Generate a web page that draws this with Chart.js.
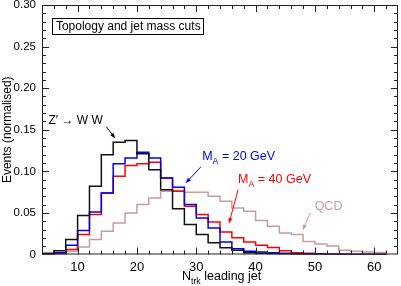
<!DOCTYPE html>
<html>
<head>
<meta charset="utf-8">
<script src="https://cdn.jsdelivr.net/npm/chart.js@4.4.0/dist/chart.umd.min.js"></script>
<style>
  html, body { margin: 0; padding: 0; background: #fff; }
  #wrap { width: 401px; height: 286px; }
</style>
</head>
<body>
<div id="wrap"><canvas id="chart" width="401" height="286"></canvas></div>
<script>
// bin edges of N_trk (width 2)
const binEdges = [4, 6, 8, 10, 12, 14, 16, 18, 20, 22, 24, 26, 28, 30, 32, 34, 36, 38, 40,
                  42, 44, 46, 48, 50, 52, 54, 56, 58, 60, 62];

const zprimeWW = [0.0015, 0.0045, 0.018, 0.047, 0.082, 0.120, 0.135, 0.137, 0.121, 0.102, 0.078, 0.055,
                  0.036, 0.024, 0.014, 0.008, 0.005, 0.002, 0.0015, 0.001, 0.0005, 0.0003, 0, 0, 0, 0, 0, 0, 0];
const massA20 = [0.0005, 0.002, 0.011, 0.029, 0.051, 0.074, 0.109, 0.116, 0.123, 0.116, 0.092, 0.081,
                 0.060, 0.044, 0.032, 0.015, 0.007, 0.004, 0.003, 0.002, 0.0015, 0.001, 0.0005, 0.0003, 0, 0, 0, 0, 0];
const massA40 = [0.0003, 0.001, 0.006, 0.024, 0.048, 0.074, 0.094, 0.107, 0.109, 0.111, 0.092, 0.076,
                 0.058, 0.048, 0.039, 0.027, 0.020, 0.015, 0.011, 0.0085, 0.0045, 0.002, 0.0015, 0.001, 0.0005, 0.0003, 0, 0, 0];
const qcd = [0, 0.001, 0.004, 0.009, 0.018, 0.028, 0.038, 0.050, 0.060, 0.068, 0.076, 0.077,
             0.075, 0.075, 0.070, 0.064, 0.056, 0.052, 0.041, 0.034, 0.026, 0.024, 0.0155, 0.0126, 0.0103, 0.005, 0.0038, 0.003, 0.0025];

const xTicks = [10, 20, 30, 40, 50, 60];
const yTicks = [0, 0.05, 0.10, 0.15, 0.20, 0.25, 0.30];

const FONT = '"Liberation Sans", Arial, Helvetica, sans-serif';
const QCD_COLOR = '#c99c9c';

// step histogram as a list of points (horizontal first, then vertical)
function histPoints(vals) {
    const last = binEdges[binEdges.length - 1];
    let pts = [{ x: binEdges[0], y: 0 }];
    vals.forEach((v, i) => pts.push({ x: binEdges[i], y: v }));
    pts.push({ x: last, y: vals[vals.length - 1] });
    pts.push({ x: last, y: 0 });
    return pts;
}

function histo(label, vals, color, order) {
    return {
        label: label,
        data: histPoints(vals),
        borderColor: color,
        borderWidth: 1.5,
        stepped: 'before',
        pointRadius: 0,
        fill: false,
        order: order,
    };
}

// text with a subscript piece
function drawRich(ctx, parts, x, y, size, color) {
    ctx.fillStyle = color;
    ctx.textBaseline = 'alphabetic';
    ctx.textAlign = 'left';
    parts.forEach(p => {
        const s = p.sub ? size * 0.7 : size;
        ctx.font = s + 'px ' + FONT;
        ctx.fillText(p.t, x, p.sub ? y + size * 0.3 : y);
        x += ctx.measureText(p.t).width;
    });
}

function arrow(ctx, x0, y0, x1, y1, color) {
    const ang = Math.atan2(y1 - y0, x1 - x0);
    const h = 6;
    ctx.strokeStyle = color;
    ctx.fillStyle = color;
    ctx.lineWidth = 1;
    ctx.beginPath();
    ctx.moveTo(x0, y0);
    ctx.lineTo(x1 - Math.cos(ang) * h * 0.8, y1 - Math.sin(ang) * h * 0.8);
    ctx.stroke();
    ctx.beginPath();
    ctx.moveTo(x1, y1);
    ctx.lineTo(x1 - h * Math.cos(ang - 0.35), y1 - h * Math.sin(ang - 0.35));
    ctx.lineTo(x1 - h * Math.cos(ang + 0.35), y1 - h * Math.sin(ang + 0.35));
    ctx.closePath();
    ctx.fill();
}

const decorations = {
    id: 'decorations',
    afterDraw(chart) {
        const { ctx, chartArea: a, scales: { x, y } } = chart;
        ctx.save();

        // frame
        ctx.strokeStyle = '#222';
        ctx.lineWidth = 1;
        ctx.strokeRect(a.left + 0.5, a.top + 0.5, a.right - a.left - 1, a.bottom - a.top - 1);

        // inward ticks on all four sides
        ctx.beginPath();
        for (let v = 6; v <= 62; v += 2) {
            const px = Math.round(x.getPixelForValue(v)) + 0.5;
            const len = v % 10 === 0 ? 7 : 4;
            ctx.moveTo(px, a.bottom); ctx.lineTo(px, a.bottom - len);
            ctx.moveTo(px, a.top); ctx.lineTo(px, a.top + len);
        }
        for (let i = 1; i < 30; i++) {
            const py = Math.round(y.getPixelForValue(i / 100)) + 0.5;
            const len = i % 5 === 0 ? 7 : 4;
            ctx.moveTo(a.left, py); ctx.lineTo(a.left + len, py);
            ctx.moveTo(a.right, py); ctx.lineTo(a.right - len, py);
        }
        ctx.stroke();

        // selection box
        const bx0 = x.getPixelForValue(5.75), bx1 = x.getPixelForValue(31.2);
        const by0 = y.getPixelForValue(0.2845), by1 = y.getPixelForValue(0.2655);
        ctx.fillStyle = '#fff';
        ctx.fillRect(bx0, by0, bx1 - bx0, by1 - by0);
        ctx.strokeStyle = '#000';
        ctx.strokeRect(Math.round(bx0) + 0.5, Math.round(by0) + 0.5, Math.round(bx1 - bx0), Math.round(by1 - by0));
        drawRich(ctx, [{ t: 'Topology and jet mass cuts' }], bx0 + 3.5, by1 - 4, 12, '#000');

        // sample labels with arrows
        drawRich(ctx, [{ t: 'Z\u2032 \u2192 W W' }], x.getPixelForValue(5.1), y.getPixelForValue(0.157), 12, '#000');
        arrow(ctx, x.getPixelForValue(14.85), y.getPixelForValue(0.1535), x.getPixelForValue(16.35), y.getPixelForValue(0.1395), '#000');

        drawRich(ctx, [{ t: 'M' }, { t: 'A', sub: true }, { t: ' = 20 GeV' }],
                 x.getPixelForValue(31.0), y.getPixelForValue(0.1136), 12.5, '#0000ff');
        arrow(ctx, x.getPixelForValue(30.8), y.getPixelForValue(0.1056), x.getPixelForValue(28.2), y.getPixelForValue(0.0856), '#0000ff');

        drawRich(ctx, [{ t: 'M' }, { t: 'A', sub: true }, { t: ' = 40 GeV' }],
                 x.getPixelForValue(37.05), y.getPixelForValue(0.086), 12.5, '#ff0000');
        arrow(ctx, x.getPixelForValue(37.05), y.getPixelForValue(0.0779), x.getPixelForValue(35.5), y.getPixelForValue(0.037), '#ff0000');

        drawRich(ctx, [{ t: 'QCD' }], x.getPixelForValue(49.95), y.getPixelForValue(0.0535), 12.5, QCD_COLOR);
        arrow(ctx, x.getPixelForValue(49.23), y.getPixelForValue(0.0507), x.getPixelForValue(47.94), y.getPixelForValue(0.029), QCD_COLOR);

        // axis titles
        drawRich(ctx, [{ t: 'N' }, { t: 'trk', sub: true }, { t: ' leading jet' }], 182, 280, 12.5, '#000');

        ctx.translate(11, (a.top + a.bottom) / 2);
        ctx.rotate(-Math.PI / 2);
        ctx.font = '12px ' + FONT;
        ctx.textAlign = 'center';
        ctx.fillStyle = '#000';
        ctx.fillText('Events (normalised)', 0, 0);
        ctx.restore();
    }
};

function fixScale(size) {
    return function (scale) {
        if (scale.isHorizontal()) scale.height = size; else scale.width = size;
        scale.paddingTop = 0; scale.paddingBottom = 0;
        scale.paddingLeft = 0; scale.paddingRight = 0;
    };
}

new Chart(document.getElementById('chart'), {
    type: 'line',
    data: {
        datasets: [
            histo('Z\u2032 \u2192 W W', zprimeWW, '#111', 1),
            histo('M_A = 20 GeV', massA20, '#0000ff', 2),
            histo('M_A = 40 GeV', massA40, '#ff0000', 3),
            histo('QCD', qcd, QCD_COLOR, 4),
        ]
    },
    options: {
        responsive: false,
        animation: false,
        devicePixelRatio: 1,
        layout: { padding: { top: 5, right: 3, left: 0, bottom: 0 } },
        plugins: { legend: { display: false }, tooltip: { enabled: false } },
        scales: {
            x: {
                type: 'linear',
                min: 4, max: 64,
                grid: { display: false, drawTicks: false },
                border: { display: false },
                afterBuildTicks: s => { s.ticks = xTicks.map(v => ({ value: v })); },
                afterFit: fixScale(31.5),
                ticks: { color: '#000', font: { family: FONT, size: 13 }, padding: 5, maxRotation: 0 }
            },
            y: {
                min: 0, max: 0.30,
                grid: { display: false, drawTicks: false },
                border: { display: false },
                afterBuildTicks: s => { s.ticks = yTicks.map(v => ({ value: v })); },
                afterFit: fixScale(42),
                ticks: {
                    color: '#000', font: { family: FONT, size: 11.5 }, padding: 6,
                    callback: v => v === 0 ? '0' : v.toFixed(2)
                }
            }
        }
    },
    plugins: [decorations]
});
</script>
</body>
</html>
